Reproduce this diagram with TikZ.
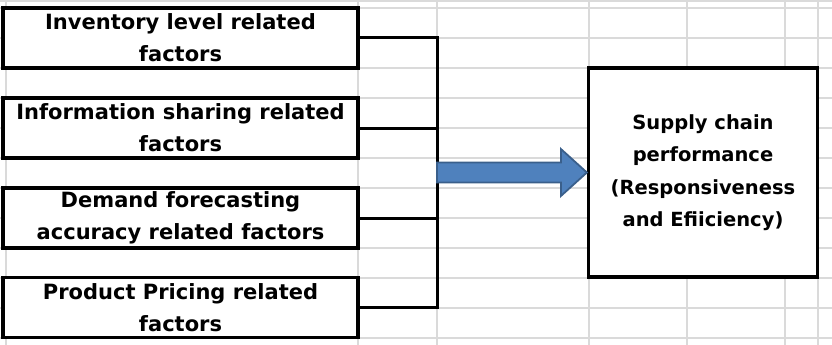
\documentclass[tikz,border=0pt]{standalone}
\usepackage{fontspec}
\setmainfont{DejaVu Sans}
\usetikzlibrary{calc}
\definecolor{gridgray}{HTML}{DADADA}
\definecolor{arrowblue}{HTML}{4F81BD}
\definecolor{arrowedge}{HTML}{3A5F8B}
\tikzset{
  factor/.style={draw, line width=3.2pt, minimum width=355pt, minimum height=60pt,
    inner sep=0pt, align=center, font=\bfseries\fontsize{21}{32}\selectfont},
  outcome/.style={draw, line width=3.2pt, minimum width=229pt, minimum height=209pt,
    inner sep=0pt, align=center, font=\bfseries\fontsize{19.5}{32.5}\selectfont},
  link/.style={line width=3pt},
  blockarrow/.style={fill=arrowblue, draw=arrowedge, line width=1.8pt, line join=miter},
}
\begin{document}
\begin{tikzpicture}[x=1pt, y=-1pt]
  \useasboundingbox (0,0) rectangle (832,345);
  % spreadsheet grid
  \draw[gridgray, line width=1.3pt] (0,1) -- (832,1);
  \foreach \gy in {8,38,...,338}
    \draw[gridgray, line width=1.3pt] (0,\gy) -- (832,\gy);
  \foreach \gx in {6,358,437,589,687,785,818}
    \draw[gridgray, line width=1.3pt] (\gx,0) -- (\gx,345);

  % factor boxes
  \node[factor, fill=white] (inv)   at (180.5,38)    {Inventory level related\\factors};
  \node[factor, fill=white] (info)  at (180.5,128)   {Information sharing related\\factors};
  \node[factor, fill=white] (dem)   at (180.5,218)   {Demand forecasting\\accuracy related factors};
  \node[factor, fill=white] (price) at (180.5,307.5) {Product Pricing related\\factors};

  \node[outcome, fill=white] (perf) at (703,172.5)
    {Supply chain\\performance\\(Responsiveness\\and Efiiciency)};

  % bracket
  \coordinate (bus) at (437,0);
  \foreach \f in {inv,info,dem,price}
    \draw[link] (\f.east) -- (\f.east -| bus);
  \draw[link, line cap=rect] (inv.east -| bus) -- (price.east -| bus);

  % block arrow
  \coordinate (tail) at (bus |- perf.west);
  \draw[blockarrow] ($(tail)+(0,-10)$) -| ($(perf.west)+(-26,-23.5)$) -- (perf.west)
    -- ++(-26,23.5) |- ($(tail)+(0,10)$) -- cycle;
\end{tikzpicture}
\end{document}
